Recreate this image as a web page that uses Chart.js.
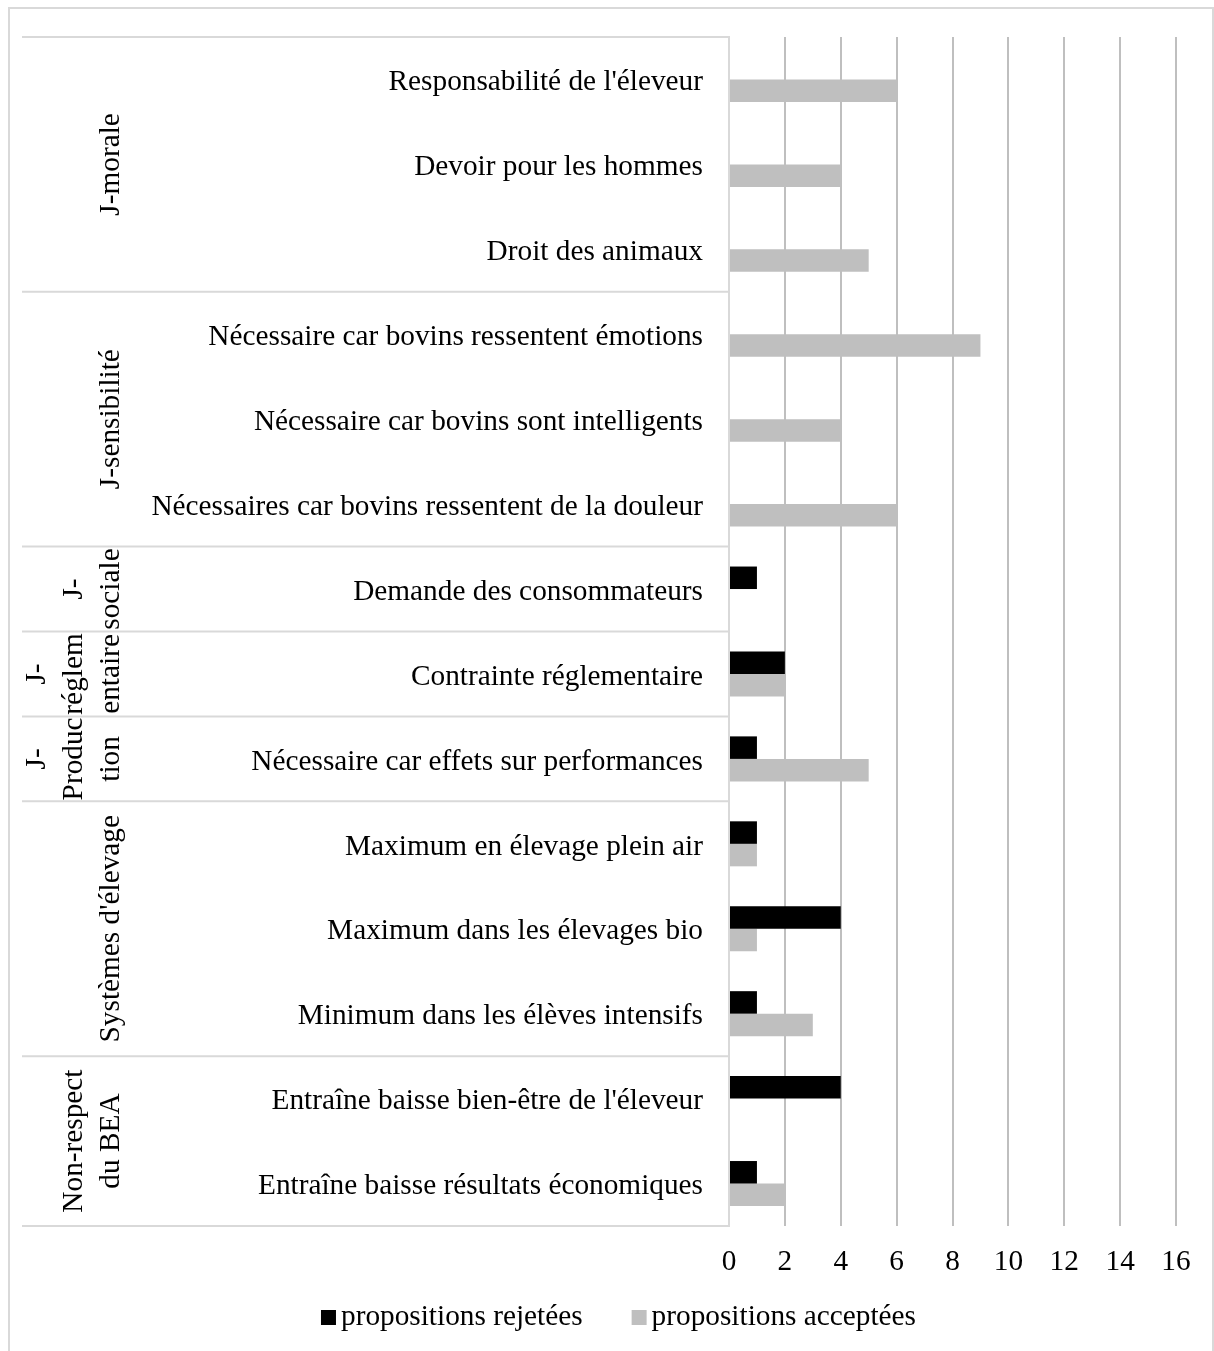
<!DOCTYPE html>
<html>
<head>
<meta charset="utf-8">
<script src="https://cdn.jsdelivr.net/npm/chart.js@4"></script>
<style>
  html, body { margin: 0; padding: 0; background: #fff; }
  #wrap { width: 1214px; height: 1351px; position: relative; }
</style>
</head>
<body>
<div id="wrap"><canvas id="barChart"></canvas></div>
<script>
const categories = [
  "Responsabilité de l'éleveur",
  'Devoir pour les hommes',
  'Droit des animaux',
  'Nécessaire car bovins ressentent émotions',
  'Nécessaire car bovins sont intelligents',
  'Nécessaires car bovins ressentent de la douleur',
  'Demande des consommateurs',
  'Contrainte réglementaire',
  'Nécessaire car effets sur performances',
  'Maximum en élevage plein air',
  'Maximum dans les élevages bio',
  'Minimum dans les élèves intensifs',
  "Entraîne baisse bien-être de l'éleveur",
  'Entraîne baisse résultats économiques',
];
const rejected = [0, 0, 0, 0, 0, 0, 1, 2, 1, 1, 4, 1, 4, 1];
const accepted = [6, 4, 5, 9, 4, 6, 0, 2, 5, 1, 1, 3, 0, 2];

// group labels (one entry per line of the rotated text) and how many rows they span
const groupLabels = [
  ['J-morale'],
  ['J-sensibilité'],
  ['J-', 'sociale'],
  ['J-', 'réglem', 'entaire'],
  ['J-', 'Produc', 'tion'],
  ["Systèmes d'élevage"],
  ['Non-respect', 'du BEA'],
];
const groupSizes = [3, 3, 1, 1, 1, 3, 2];

const xTicks = [0, 2, 4, 6, 8, 10, 12, 14, 16];

const FONT = "'Liberation Serif', 'Times New Roman', serif";
const FS = 29.3;
Chart.defaults.font.family = FONT;
Chart.defaults.color = '#000';

// white page + outer frame
const framePlugin = {
  id: 'frame',
  beforeDraw(chart) {
    const ctx = chart.ctx;
    ctx.save();
    ctx.fillStyle = '#fff';
    ctx.fillRect(0, 0, chart.width, chart.height);
    ctx.strokeStyle = '#d9d9d9';
    ctx.lineWidth = 2;
    ctx.strokeRect(9, 8, 1204, 1360);
    ctx.restore();
  },
};

// separators and rotated group names on the left
const groupPlugin = {
  id: 'groups',
  afterDraw(chart) {
    const ctx = chart.ctx;
    const y = chart.scales.y;
    const area = chart.chartArea;
    const edge = i => {
      if (i <= 0) return area.top;
      if (i >= categories.length) return area.bottom;
      return (y.getPixelForValue(i - 1) + y.getPixelForValue(i)) / 2;
    };
    ctx.save();
    ctx.strokeStyle = '#d9d9d9';
    ctx.lineWidth = 2;
    let start = 0;
    const bounds = [];
    groupSizes.forEach(n => { bounds.push([start, start + n]); start += n; });
    ctx.beginPath();
    bounds.forEach(([a, b]) => {
      ctx.moveTo(22, edge(a)); ctx.lineTo(area.left, edge(a));
      ctx.moveTo(22, edge(b)); ctx.lineTo(area.left, edge(b));
    });
    ctx.stroke();

    ctx.fillStyle = '#000';
    ctx.font = FS + 'px ' + FONT;
    ctx.textAlign = 'center';
    ctx.textBaseline = 'middle';
    bounds.forEach(([a, b], gi) => {
      const mid = (edge(a) + edge(b)) / 2;
      const lines = groupLabels[gi];
      lines.forEach((line, li) => {
        const x = 111 - (lines.length - 1 - li) * 37;
        ctx.save();
        ctx.translate(x, mid);
        ctx.rotate(-Math.PI / 2);
        ctx.fillText(line, 0, 0);
        ctx.restore();
      });
    });
    ctx.restore();
  },
};

// legend drawn by hand so the spacing matches the original
const legendPlugin = {
  id: 'legendRow',
  afterDraw(chart) {
    const ctx = chart.ctx;
    const sets = chart.data.datasets;
    ctx.save();
    ctx.font = FS + 'px ' + FONT;
    ctx.textBaseline = 'alphabetic';
    ctx.textAlign = 'left';
    const box = 15, gapText = 5, gapItem = 49, base = 1325;
    const widths = sets.map(ds => ctx.measureText(ds.label).width);
    const total = widths.reduce((s, w) => s + box + gapText + w, 0) + gapItem * (sets.length - 1);
    let x = 618.5 - total / 2;
    sets.forEach((ds, i) => {
      ctx.fillStyle = ds.backgroundColor;
      ctx.fillRect(x, base - box, box, box);
      x += box + gapText;
      ctx.fillStyle = '#000';
      ctx.fillText(ds.label, x, base);
      x += widths[i] + gapItem;
    });
    ctx.restore();
  },
};

const barChart = new Chart(document.getElementById('barChart'), {
  type: 'bar',
  data: {
    labels: categories,
    datasets: [
      {
        label: 'propositions rejetées',
        data: rejected,
        backgroundColor: '#000000',
      },
      {
        label: 'propositions acceptées',
        data: accepted,
        backgroundColor: '#bfbfbf',
      },
    ],
  },
  options: {
    indexAxis: 'y',
    responsive: true,
    maintainAspectRatio: false,
    animation: false,
    categoryPercentage: 0.53,
    barPercentage: 1,
    layout: { padding: { top: 37, right: 38, bottom: 0, left: 0 } },
    scales: {
      x: {
        min: 0,
        max: 16,
        afterBuildTicks: scale => { scale.ticks = xTicks.map(v => ({ value: v })); },
        grid: { color: '#bfbfbf', lineWidth: 2, drawTicks: false },
        border: { display: false },
        ticks: { font: { size: FS }, color: '#000', padding: 19 },
        afterFit: scale => { scale.height = 125; },
      },
      y: {
        grid: { display: false, drawTicks: false },
        border: { color: '#d9d9d9', width: 2 },
        ticks: { font: { size: FS }, color: '#000', padding: 26, autoSkip: false, labelOffset: 3 },
        afterFit: scale => {
          scale.width = 729;
          scale.paddingTop = 0;
          scale.paddingBottom = 0;
        },
      },
    },
    plugins: {
      legend: { display: false },
      tooltip: { enabled: false },
    },
  },
  plugins: [framePlugin, groupPlugin, legendPlugin],
});
</script>
</body>
</html>
